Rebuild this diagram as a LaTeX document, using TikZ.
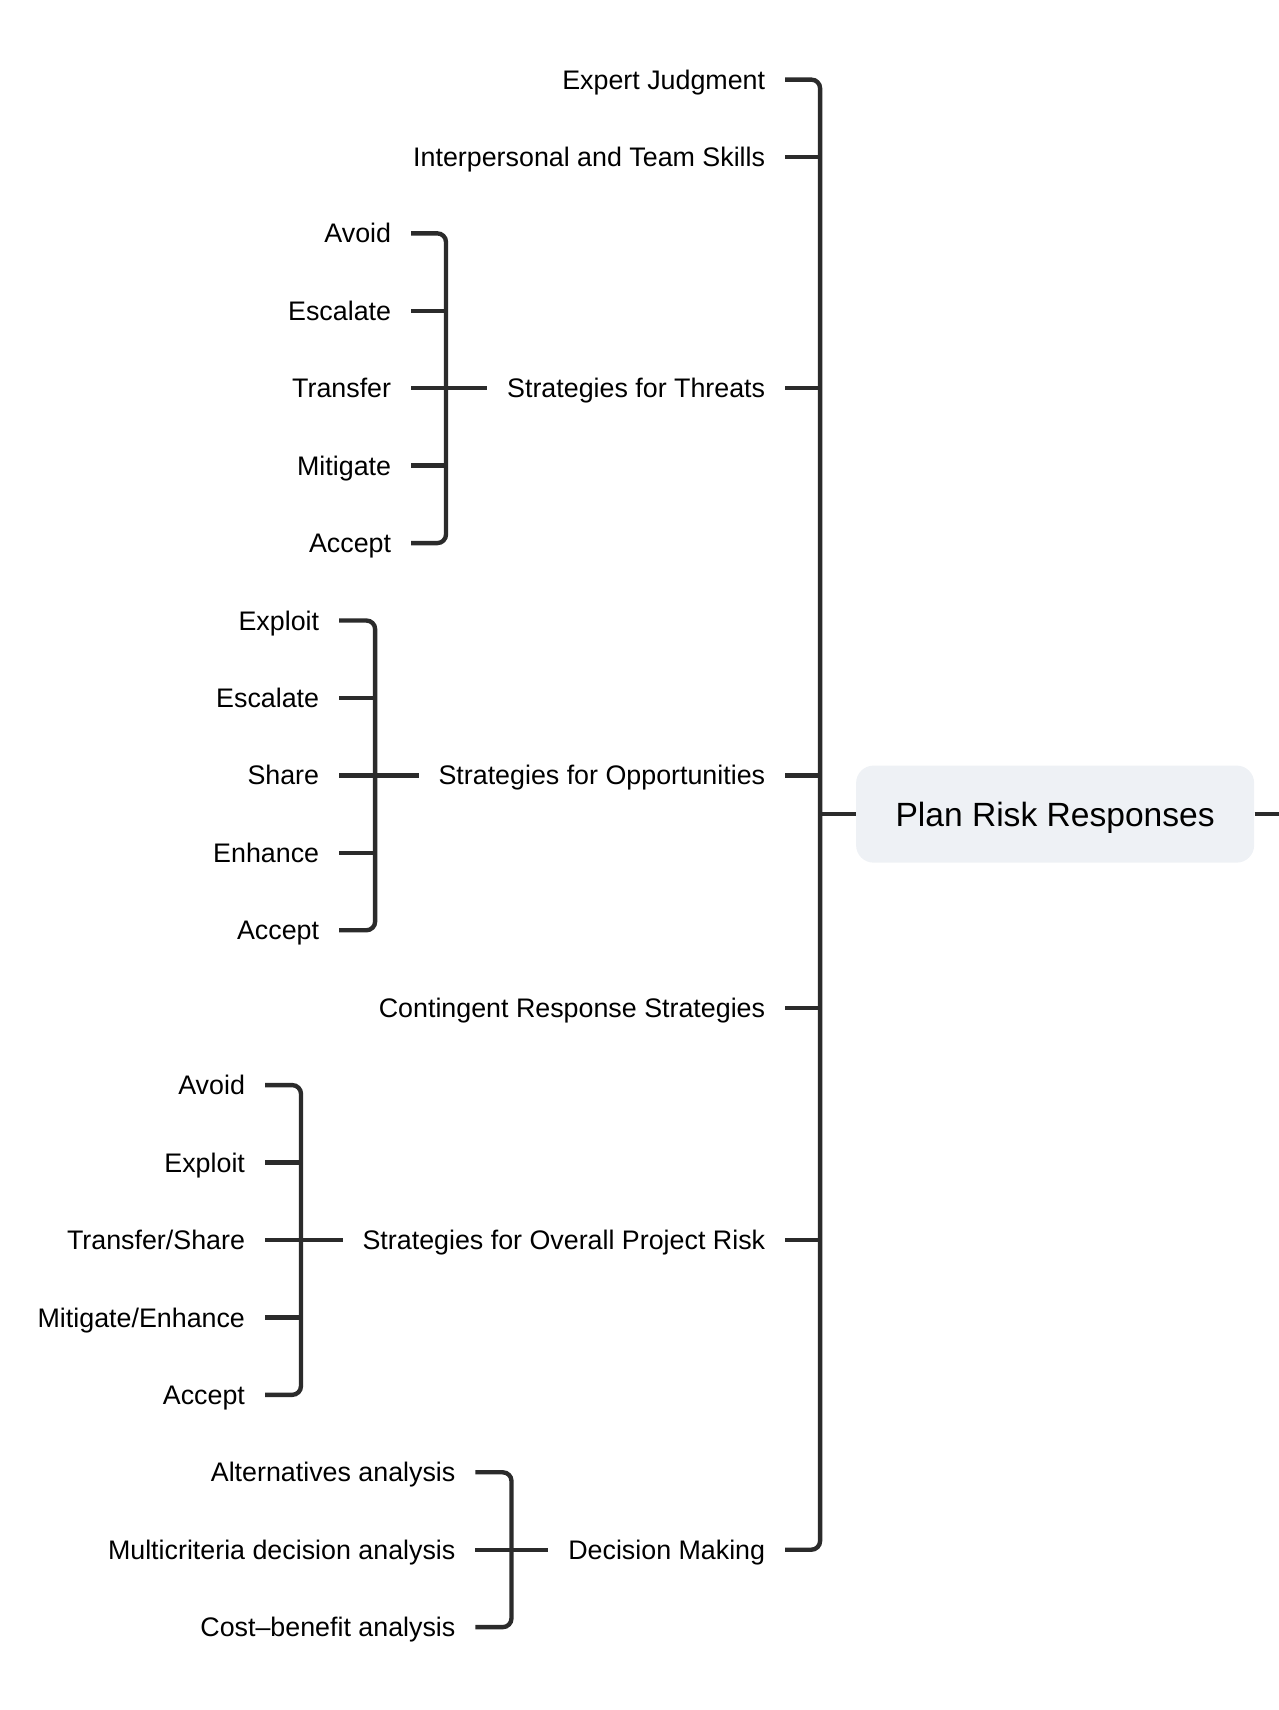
\documentclass[tikz,border=0pt]{standalone}
\usepackage{fontspec}
\setmainfont{Liberation Sans}
\usetikzlibrary{positioning}
\definecolor{linegray}{HTML}{2B2B2B}
\definecolor{boxfill}{HTML}{EEF1F5}
\tikzset{
    leaf/.style={anchor=east, inner xsep=9pt, inner ysep=0pt, text height=8.8pt, text depth=0pt, font=\fontsize{12.3}{14}\selectfont, text=black},
    topic/.style={fill=boxfill, rounded corners=8pt, minimum width=182.5pt, minimum height=44.5pt, inner sep=0pt, text height=11pt, text depth=0pt, font=\fontsize{15.4}{18}\selectfont},
    branch/.style={draw=linegray, line width=2pt, rounded corners=4pt},
}

\begin{document}
\begin{tikzpicture}[x=0.5pt, y=-0.5pt] % plan risk responses
	\useasboundingbox (0,0) rectangle (1172,1568);
	% central topic
	\node[topic] (prr) at (967.5,746.5) {Plan Risk Responses};
	\coordinate (mb) at (752,746.5);
	\coordinate (out) at (1173,746.5);
	% first level
	\node[leaf] (ej) at (720,73) {Expert Judgment};
	\node[leaf] (its) at (720,144) {Interpersonal and Team Skills};
	\node[leaf] (thr) at (720,356) {Strategies for Threats};
	\node[leaf] (opp) at (720,711) {Strategies for Opportunities};
	\node[leaf] (crs) at (720,924) {Contingent Response Strategies};
	\node[leaf] (ovr) at (720,1137) {Strategies for Overall Project Risk};
	\node[leaf] (dm) at (720,1421) {Decision Making};
	% second level
	\foreach \txt [count=\i] in {Avoid, Escalate, Transfer, Mitigate, Accept}
		\node[leaf] (th\i) at (377,143+71*\i) {\txt};
	\foreach \txt [count=\i] in {Exploit, Escalate, Share, Enhance, Accept}
		\node[leaf] (op\i) at (311,498+71*\i) {\txt};
	\foreach \txt [count=\i] in {Avoid, Exploit, Transfer/Share, Mitigate/Enhance, Accept}
		\node[leaf] (ov\i) at (243,924+71*\i) {\txt};
	\foreach \txt [count=\i] in {Alternatives analysis, Multicriteria decision analysis, Cost–benefit analysis}
		\node[leaf] (dc\i) at (436,1279+71*\i) {\txt};
	\coordinate (thb) at (409,356);
	\coordinate (opb) at (344,711);
	\coordinate (ovb) at (276,1137);
	\coordinate (dcb) at (469,1421);
	% main bus
	\draw[branch] (ej.east) -| (mb) |- (dm.east);
	\foreach \n in {its, thr, opp, crs, ovr}
		\draw[branch] (\n.east) -- (\n.east -| mb);
	\draw[branch] (mb) -- (prr.west);
	\draw[branch] (prr.east) -- (out);
	% threats
	\draw[branch] (th1.east) -| (thb) |- (th5.east);
	\foreach \i in {2,3,4}
		\draw[branch] (th\i.east) -- (th\i.east -| thb);
	\draw[branch] (thb) -- (thr.west);
	% opportunities
	\draw[branch] (op1.east) -| (opb) |- (op5.east);
	\foreach \i in {2,3,4}
		\draw[branch] (op\i.east) -- (op\i.east -| opb);
	\draw[branch] (opb) -- (opp.west);
	% overall project risk
	\draw[branch] (ov1.east) -| (ovb) |- (ov5.east);
	\foreach \i in {2,3,4}
		\draw[branch] (ov\i.east) -- (ov\i.east -| ovb);
	\draw[branch] (ovb) -- (ovr.west);
	% decision making
	\draw[branch] (dc1.east) -| (dcb) |- (dc3.east);
	\draw[branch] (dc2.east) -- (dc2.east -| dcb);
	\draw[branch] (dcb) -- (dm.west);
\end{tikzpicture}
\end{document}
